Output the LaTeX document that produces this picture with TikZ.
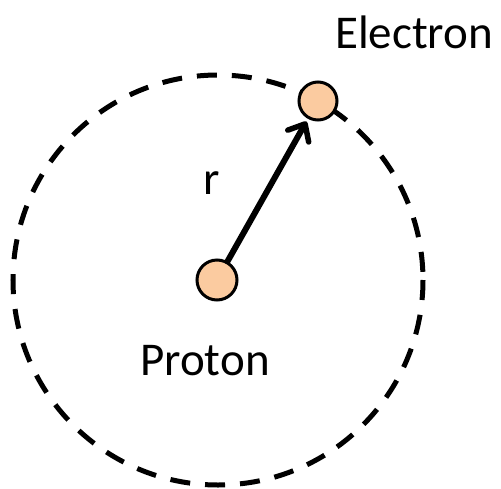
\documentclass[tikz,border=0pt]{standalone}
\usepackage{fontspec}
\setmainfont{Carlito}
\usetikzlibrary{arrows.meta}
\definecolor{peach}{RGB}{251,203,160}
\begin{document}
\begin{tikzpicture}[x=1pt,y=-1pt,
  particle/.style={circle,draw=black,line width=3pt,fill=peach,minimum size=40pt,inner sep=0pt},
  label/.style={font=\fontsize{47}{50}\selectfont,inner sep=0pt}]
\useasboundingbox (0,0) rectangle (501,488);
\draw[line width=5pt,dash pattern=on 20pt off 15pt] (218,280) circle[radius=205];
\node[particle] (p) at (217,280) {};
\node[particle,minimum size=38pt] (e) at (318,101) {};
\draw[line width=6pt,line cap=round,shorten >=3pt,-{Straight Barb[length=14pt,width=24pt,line width=5.5pt,round]}] (p) -- (e);
\node[label] (elabel) at (414,32) {Electron};
\node[label] (plabel) at (205,361) {Proton};
\node[label] (rlabel) at (212,183) {r};
\end{tikzpicture}
\end{document}
